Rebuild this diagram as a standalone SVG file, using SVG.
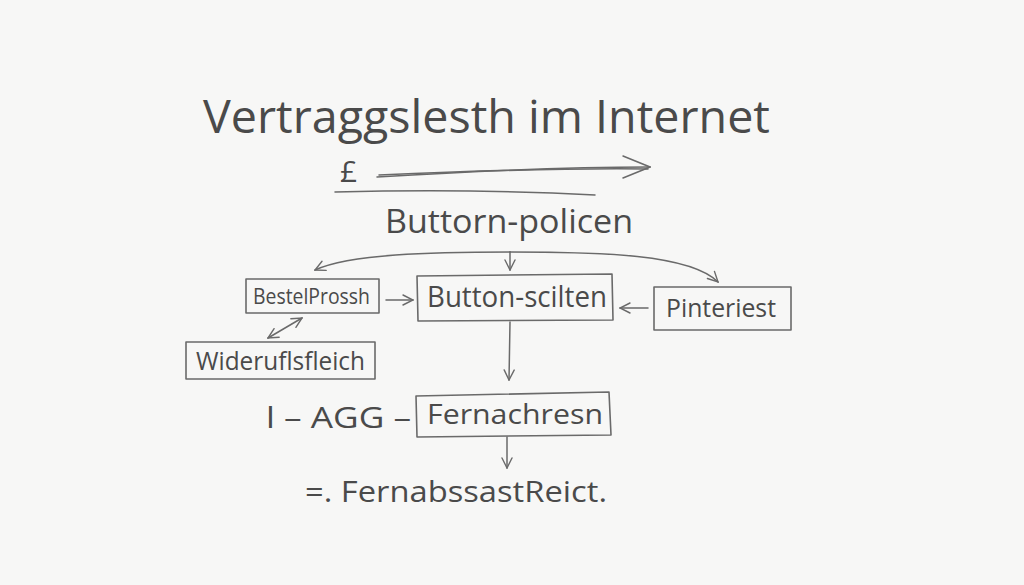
<svg xmlns="http://www.w3.org/2000/svg" width="1024" height="585" viewBox="0 0 1024 585">
<defs>
<style>
.t{font-family:"Open Sans","Liberation Sans",sans-serif;fill:#4a4a4a;}
.box{fill:none;stroke:#6a6a6a;stroke-width:1.6;stroke-linejoin:round;}
.ln{fill:none;stroke:#6a6a6a;stroke-width:1.5;stroke-linecap:round;stroke-linejoin:round;}
</style>
<marker id="ah" viewBox="0 0 12 12" refX="11" refY="6" markerWidth="12" markerHeight="12" markerUnits="userSpaceOnUse" orient="auto-start-reverse">
<path d="M1,1 L11,6 L1,11" fill="none" stroke="#6a6a6a" stroke-width="1.4" stroke-linecap="round"/>
</marker>
<marker id="ahb" viewBox="0 0 30 26" refX="29" refY="13" markerWidth="30" markerHeight="26" markerUnits="userSpaceOnUse" orient="auto">
<path d="M2,2 L29,13 L2,24" fill="none" stroke="#6a6a6a" stroke-width="1.5" stroke-linecap="round"/>
</marker>
</defs>
<rect width="1024" height="585" fill="#f7f7f6"/>
<g id="title">
<text class="t" x="203" y="133" font-size="46" textLength="567" lengthAdjust="spacingAndGlyphs">Vertraggslesth im Internet</text>
<text class="t" x="340" y="182" font-size="30">£</text>
</g>
<g id="policen">
<text class="t" x="385" y="233" font-size="32" textLength="248" lengthAdjust="spacingAndGlyphs">Buttorn-policen</text>
</g>
<g id="bestel">
<rect class="box" x="246" y="279" width="133" height="34"/>
<text class="t" x="253" y="304" font-size="21" textLength="117" lengthAdjust="spacingAndGlyphs">BestelProssh</text>
</g>
<g id="button">
<path class="box" d="M417,276 L612,274 L613,320 L418,321 Z"/>
<text class="t" x="427" y="307" font-size="29" textLength="180" lengthAdjust="spacingAndGlyphs">Button-scilten</text>
</g>
<g id="pinteriest">
<rect class="box" x="654" y="287" width="137" height="43"/>
<text class="t" x="666" y="317" font-size="25" textLength="110" lengthAdjust="spacingAndGlyphs">Pinteriest</text>
</g>
<g id="widerufl">
<rect class="box" x="186" y="342" width="189" height="37"/>
<text class="t" x="196" y="370" font-size="25" textLength="169" lengthAdjust="spacingAndGlyphs">Wideruflsfleich</text>
</g>
<g id="fern">
<path class="box" d="M416,396 L609,392 L611,435 L417,437 Z"/>
<text class="t" x="427" y="424" font-size="28" textLength="176" lengthAdjust="spacingAndGlyphs">Fernachresn</text>
</g>
<g id="agg">
<text class="t" x="266" y="428" font-size="30" textLength="145" lengthAdjust="spacingAndGlyphs">l –  AGG –</text>
</g>
<g id="fernabs">
<text class="t" x="305" y="502" font-size="30" textLength="302" lengthAdjust="spacingAndGlyphs">=. FernabssastReict.</text>
</g>
<g id="connectors">
<path class="ln" d="M377,177 C460,172 560,167 650,167" marker-end="url(#ahb)"/>
<path class="ln" d="M379,175 C470,171 560,168 648,169" stroke-width="1"/>
<path class="ln" d="M335,192 C420,190 520,191 595,195"/>
<path class="ln" d="M510,252 C430,252 350,254 315,270" marker-end="url(#ah)"/>
<path class="ln" d="M510,252 C600,252 690,254 718,282" marker-end="url(#ah)"/>
<path class="ln" d="M510,252 L510,270" marker-end="url(#ah)"/>
<path class="ln" d="M386,300 L413,300" marker-end="url(#ah)"/>
<path class="ln" d="M648,308 L620,308" marker-end="url(#ah)"/>
<path class="ln" d="M268,338 L302,318" marker-start="url(#ah)" marker-end="url(#ah)"/>
<path class="ln" d="M510,322 L509,380" marker-end="url(#ah)"/>
<path class="ln" d="M507,437 L507,468" marker-end="url(#ah)"/>
</g>
</svg>
